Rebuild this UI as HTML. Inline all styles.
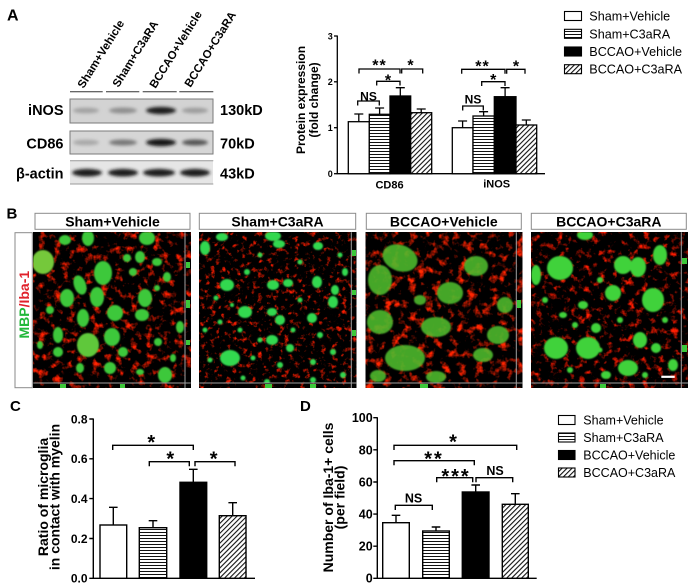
<!DOCTYPE html>
<html><head><meta charset="utf-8"><style>
html,body{margin:0;padding:0;background:#fff;}
svg{display:block;}
text{font-family:"Liberation Sans",Arial,sans-serif;}
</style></head><body>
<svg width="693" height="587" viewBox="0 0 693 587" xmlns="http://www.w3.org/2000/svg">
<defs>
<pattern id="hs" width="4" height="3" patternUnits="userSpaceOnUse"><rect width="4" height="3" fill="#fff"/><rect y="1" width="4" height="1" fill="#111"/></pattern>
<pattern id="dg" width="3.5" height="3.5" patternUnits="userSpaceOnUse" patternTransform="rotate(45)"><rect width="3.5" height="3.5" fill="#fff"/><rect width="1.1" height="3.5" fill="#111"/></pattern>
<filter id="bl" x="-50%" y="-100%" width="200%" height="300%"><feGaussianBlur stdDeviation="1.6"/></filter>
<filter id="gb" x="-20%" y="-20%" width="140%" height="140%"><feGaussianBlur stdDeviation="0.7"/></filter>
<filter id="r1" x="0" y="0" width="1" height="1" color-interpolation-filters="sRGB"><feTurbulence type="fractalNoise" baseFrequency="0.13" numOctaves="3" seed="3"/><feColorMatrix type="matrix" values="3.6 0 0 0 -1.9  0.45 0 0 0 -0.24  0 0 0 0 0  0 0 0 0 1"/></filter>
<filter id="r2" x="0" y="0" width="1" height="1" color-interpolation-filters="sRGB"><feTurbulence type="fractalNoise" baseFrequency="0.19" numOctaves="3" seed="8"/><feColorMatrix type="matrix" values="3.6 0 0 0 -2.0  0.4 0 0 0 -0.22  0 0 0 0 0  0 0 0 0 1"/></filter>
<filter id="r3" x="0" y="0" width="1" height="1" color-interpolation-filters="sRGB"><feTurbulence type="fractalNoise" baseFrequency="0.12" numOctaves="3" seed="12"/><feColorMatrix type="matrix" values="3.6 0 0 0 -1.85  0.5 0 0 0 -0.26  0 0 0 0 0  0 0 0 0 1"/></filter>
<filter id="r4" x="0" y="0" width="1" height="1" color-interpolation-filters="sRGB"><feTurbulence type="fractalNoise" baseFrequency="0.14" numOctaves="3" seed="21"/><feColorMatrix type="matrix" values="3.6 0 0 0 -1.94  0.4 0 0 0 -0.22  0 0 0 0 0  0 0 0 0 1"/></filter>
<clipPath id="c1"><rect x="33.3" y="232.3" width="151.7" height="150.4"/></clipPath>
<clipPath id="c2"><rect x="199.3" y="232.3" width="152" height="150.4"/></clipPath>
<clipPath id="c3"><rect x="365.7" y="232.3" width="150.6" height="150.4"/></clipPath>
<clipPath id="c4"><rect x="531.3" y="232.3" width="150" height="150.4"/></clipPath>
</defs>
<rect width="693" height="587" fill="#fff"/>

<text x="7" y="20.5" font-size="16" font-weight="bold">A</text>
<g font-size="11.5" font-weight="bold">
<text transform="translate(83.5,89) rotate(-58)">Sham+Vehicle</text>
<text transform="translate(118.5,88) rotate(-58)">Sham+C3aRA</text>
<text transform="translate(155.5,89) rotate(-58)">BCCAO+Vehicle</text>
<text transform="translate(190.5,88) rotate(-58)">BCCAO+C3aRA</text>
</g>
<g stroke="#333" stroke-width="1">
<line x1="70" y1="91.7" x2="102.7" y2="91.7"/><line x1="106" y1="91.7" x2="139.3" y2="91.7"/>
<line x1="142.7" y1="91.7" x2="176.7" y2="91.7"/><line x1="179.3" y1="91.7" x2="213.3" y2="91.7"/>
</g>
<rect x="70" y="99" width="143" height="24" fill="#d3d3d3" stroke="#7a7a7a" stroke-width="1"/>
<g filter="url(#bl)">
<ellipse cx="86" cy="110.5" rx="13" ry="2.8" fill="#a2a2a2"/>
<ellipse cx="123" cy="110.5" rx="14" ry="3" fill="#8f8f8f"/>
<ellipse cx="161" cy="110.5" rx="15" ry="3.6" fill="#1e1e1e"/>
<ellipse cx="195" cy="110.5" rx="13" ry="2.8" fill="#9c9c9c"/>
</g>
<rect x="70" y="131" width="143" height="23" fill="#d6d6d6" stroke="#7a7a7a" stroke-width="1"/>
<g filter="url(#bl)">
<ellipse cx="86" cy="142.5" rx="13" ry="2.8" fill="#a8a8a8"/>
<ellipse cx="123" cy="142.5" rx="14" ry="3" fill="#777"/>
<ellipse cx="161" cy="142.5" rx="15" ry="3.6" fill="#151515"/>
<ellipse cx="195" cy="142.5" rx="13" ry="3" fill="#555"/>
</g>
<rect x="70" y="161" width="143" height="23" fill="#e6e6e6"/>
<line x1="70" y1="160.7" x2="213.3" y2="160.7" stroke="#999" stroke-width="1"/>
<line x1="70" y1="184" x2="213.3" y2="184" stroke="#999" stroke-width="1"/>
<g filter="url(#bl)" fill="#1a1a1a">
<ellipse cx="87" cy="172.7" rx="15" ry="3.8"/>
<ellipse cx="123" cy="172.7" rx="15" ry="3.8"/>
<ellipse cx="159" cy="172.7" rx="16" ry="3.8"/>
<ellipse cx="195" cy="172.7" rx="15" ry="3.8"/>
</g>
<g font-size="14.5" font-weight="bold">
<text x="63.5" y="115.2" text-anchor="end">iNOS</text>
<text x="63.5" y="148.3" text-anchor="end">CD86</text>
<text x="63.5" y="178.3" text-anchor="end">β-actin</text>
<text x="220" y="115.2">130kD</text>
<text x="220" y="148.3">70kD</text>
<text x="220" y="178.3">43kD</text>
</g>

<g font-size="12" font-weight="bold">
<text transform="translate(305,100) rotate(-90)" text-anchor="middle">Protein expression</text>
<text transform="translate(318,100) rotate(-90)" text-anchor="middle">(fold change)</text>
</g>
<g font-size="9" font-weight="bold" text-anchor="end">
<text x="332.8" y="39.3">3</text><text x="332.8" y="85">2</text><text x="332.8" y="131">1</text><text x="332.8" y="177">0</text>
</g>
<g stroke="#000" stroke-width="1.3" fill="none">
<line x1="337.3" y1="35.5" x2="337.3" y2="174"/>
<line x1="336.6" y1="173.7" x2="545" y2="173.7"/>
<line x1="334" y1="36" x2="337.3" y2="36"/><line x1="334" y1="81.8" x2="337.3" y2="81.8"/>
<line x1="334" y1="127.7" x2="337.3" y2="127.7"/><line x1="334" y1="173.7" x2="337.3" y2="173.7"/>
</g>
<g stroke="#000" stroke-width="1.3">
<rect x="348.3" y="121.7" width="21" height="52" fill="#fff"/>
<rect x="369.3" y="114.3" width="20.7" height="59.4" fill="url(#hs)"/>
<rect x="390" y="96" width="20.7" height="77.7" fill="#000"/>
<rect x="410.7" y="112.7" width="21" height="61" fill="url(#dg)"/>
<rect x="452.3" y="127.7" width="20.7" height="46" fill="#fff"/>
<rect x="473" y="116" width="21.3" height="57.7" fill="url(#hs)"/>
<rect x="494.3" y="96.7" width="21.7" height="77" fill="#000"/>
<rect x="516" y="125" width="20.7" height="48.7" fill="url(#dg)"/>
</g>
<g stroke="#000" stroke-width="1.3" fill="none">
<path d="M358.8 121.7V114M354.3 114h9"/>
<path d="M379.6 114.3V108M375.1 108h9"/>
<path d="M400.3 96V87.7M395.8 87.7h9"/>
<path d="M421.2 112.7V109M416.7 109h9"/>
<path d="M462.6 127.7V121M458.1 121h9"/>
<path d="M483.6 116V111.7M479.1 111.7h9"/>
<path d="M505.1 96.7V87.7M500.6 87.7h9"/>
<path d="M526.3 125V120M521.8 120h9"/>
<path d="M357.7 105.5V101H379.3V105.5"/>
<path d="M376.7 85.5V81.3H400V85.5"/>
<path d="M359 73.5V69H400V73.5"/>
<path d="M401.7 73.5V69H422.7V73.5"/>
<path d="M462.7 110.5V106H483.3V110.5"/>
<path d="M481.7 86V81.7H505V86"/>
<path d="M461.7 73.8V69.3H505V73.8"/>
<path d="M506.7 73.8V69.3H525V73.8"/>
</g>
<g font-weight="bold" text-anchor="middle">
<text x="368.5" y="100.7" font-size="12">NS</text>
<text x="473" y="103.3" font-size="12">NS</text>
<g font-size="16">
<text x="379.5" y="70.3" letter-spacing="1">**</text>
<text x="388" y="85.5">*</text>
<text x="410.5" y="70.3">*</text>
<text x="482.5" y="71.5" letter-spacing="1">**</text>
<text x="493.3" y="85.2">*</text>
<text x="516" y="71.5">*</text>
</g>
<text x="389.5" y="188.3" font-size="11">CD86</text>
<text x="496.7" y="187.3" font-size="11">iNOS</text>
</g>

<g stroke="#000" stroke-width="1.1">
<rect x="564.5" y="11.5" width="17" height="9" fill="#fff"/>
<rect x="564.5" y="29.3" width="17" height="9" fill="url(#hs)"/>
<rect x="564.5" y="47" width="17" height="9" fill="#000"/>
<rect x="564.5" y="64.7" width="17" height="9" fill="url(#dg)"/>
</g>
<g font-size="12.6">
<text x="589.3" y="20.5">Sham+Vehicle</text>
<text x="589.3" y="38.3">Sham+C3aRA</text>
<text x="589.3" y="56">BCCAO+Vehicle</text>
<text x="589.3" y="73.7">BCCAO+C3aRA</text>
</g>

<text x="6.5" y="218.5" font-size="15" font-weight="bold">B</text>
<g fill="#fff" stroke="#8a8a8a" stroke-width="1">
<rect x="35" y="213.3" width="155" height="16"/>
<rect x="199.3" y="213.3" width="156.4" height="16"/>
<rect x="366.3" y="213.3" width="155" height="16"/>
<rect x="531.3" y="213.3" width="155" height="16"/>
<rect x="15" y="232.7" width="17.3" height="155"/>
</g>
<g font-size="14" font-weight="bold" text-anchor="middle">
<text x="112.5" y="226.3">Sham+Vehicle</text>
<text x="277.5" y="226.3">Sham+C3aRA</text>
<text x="443.8" y="226.3">BCCAO+Vehicle</text>
<text x="608.8" y="226.3">BCCAO+C3aRA</text>
</g>
<text transform="translate(29,304.7) rotate(-90)" text-anchor="middle" font-size="14" font-weight="bold"><tspan fill="#22b83a">MBP</tspan><tspan fill="#e0202a">/Iba-1</tspan></text>

<rect x="33.3" y="232.3" width="157.4" height="155.7" fill="#000" filter="url(#r1)"/>
<rect x="199.3" y="232.3" width="157" height="155.7" fill="#000" filter="url(#r2)"/>
<rect x="365.7" y="232.3" width="156.6" height="155.7" fill="#000" filter="url(#r3)"/>
<rect x="531.3" y="232.3" width="156.7" height="155.7" fill="#000" filter="url(#r4)"/>

<g clip-path="url(#c1)" filter="url(#gb)" fill="#3dc83a">
<ellipse cx="65" cy="240" rx="6" ry="5"/><ellipse cx="88" cy="238" rx="6" ry="8"/>
<ellipse cx="43" cy="262" rx="11" ry="12" fill="#74c83a"/><ellipse cx="103" cy="273" rx="9" ry="12"/>
<ellipse cx="80" cy="285" rx="6" ry="10" transform="rotate(-20 80 285)"/><ellipse cx="67" cy="298" rx="7" ry="9"/>
<ellipse cx="97" cy="297" rx="7" ry="10"/><ellipse cx="115" cy="313" rx="8" ry="8"/>
<ellipse cx="145" cy="298" rx="7" ry="9"/><ellipse cx="147" cy="238" rx="8" ry="7"/>
<ellipse cx="140" cy="257" rx="5" ry="6"/><ellipse cx="157" cy="262" rx="5" ry="4"/>
<ellipse cx="167" cy="277" rx="4" ry="5"/><ellipse cx="127" cy="258" rx="4" ry="4"/>
<ellipse cx="83" cy="318" rx="6" ry="9"/><ellipse cx="142" cy="315" rx="7" ry="6"/>
<ellipse cx="58" cy="335" rx="5" ry="8"/><ellipse cx="88" cy="345" rx="11" ry="12" fill="#5ec83a"/>
<ellipse cx="112" cy="337" rx="8" ry="9"/><ellipse cx="58" cy="352" rx="5" ry="5"/>
<ellipse cx="123" cy="352" rx="5" ry="5"/><ellipse cx="165" cy="375" rx="7" ry="8"/>
<ellipse cx="180" cy="327" rx="4" ry="6"/><ellipse cx="158" cy="342" rx="4" ry="4"/>
<ellipse cx="80" cy="368" rx="4" ry="5"/><ellipse cx="110" cy="368" rx="6" ry="6"/>
<ellipse cx="173" cy="358" rx="3" ry="4"/><ellipse cx="40" cy="345" rx="3" ry="4"/>
<ellipse cx="133" cy="272" rx="4" ry="4"/><ellipse cx="157" cy="288" rx="3" ry="3"/>
<ellipse cx="50" cy="310" rx="4" ry="4"/><ellipse cx="140" cy="372" rx="4" ry="3"/>
</g>
<g clip-path="url(#c2)" filter="url(#gb)" fill="#32d850">
<ellipse cx="205" cy="248" rx="5" ry="7"/><ellipse cx="222" cy="237" rx="6" ry="4"/>
<ellipse cx="273" cy="236" rx="8" ry="5"/><ellipse cx="279" cy="244" rx="6" ry="4"/>
<ellipse cx="318" cy="246" rx="5" ry="4"/><ellipse cx="247" cy="272" rx="3" ry="3"/>
<ellipse cx="227" cy="285" rx="7" ry="6"/><ellipse cx="273" cy="285" rx="6" ry="5"/>
<ellipse cx="288" cy="283" rx="5" ry="4"/><ellipse cx="317" cy="282" rx="5" ry="6"/>
<ellipse cx="335" cy="290" rx="4" ry="5"/><ellipse cx="345" cy="272" rx="3" ry="4"/>
<ellipse cx="245" cy="312" rx="7" ry="6"/><ellipse cx="272" cy="312" rx="5" ry="4"/>
<ellipse cx="280" cy="320" rx="5" ry="5"/><ellipse cx="312" cy="318" rx="5" ry="5"/>
<ellipse cx="333" cy="302" rx="5" ry="6"/><ellipse cx="272" cy="340" rx="6" ry="5"/>
<ellipse cx="230" cy="358" rx="10" ry="8"/><ellipse cx="290" cy="348" rx="4" ry="4"/>
<circle cx="216" cy="298" r="2.5"/><circle cx="220" cy="322" r="2.5"/><circle cx="240" cy="330" r="2.5"/>
<circle cx="293" cy="330" r="2.5"/><circle cx="260" cy="340" r="2.5"/><circle cx="320" cy="335" r="3"/>
<circle cx="333" cy="352" r="3"/><circle cx="253" cy="358" r="2.5"/><circle cx="280" cy="365" r="3"/>
<circle cx="313" cy="362" r="3"/><circle cx="343" cy="375" r="3"/><circle cx="243" cy="378" r="2.5"/>
<circle cx="267" cy="382" r="3"/><circle cx="313" cy="380" r="3"/><circle cx="205" cy="330" r="2.5"/>
<circle cx="210" cy="360" r="2.5"/><circle cx="300" cy="300" r="2.5"/><circle cx="260" cy="255" r="2.5"/>
<circle cx="300" cy="262" r="2.5"/><circle cx="340" cy="255" r="2.5"/><circle cx="232" cy="305" r="2"/>
</g>
<g clip-path="url(#c3)" filter="url(#gb)" fill="#4cb82e" fill-opacity="0.9">
<ellipse cx="400" cy="258" rx="18" ry="13" transform="rotate(20 400 258)"/>
<ellipse cx="380" cy="280" rx="12" ry="15"/><ellipse cx="476" cy="266" rx="12" ry="10"/>
<ellipse cx="450" cy="293" rx="13" ry="11"/><ellipse cx="505" cy="305" rx="8" ry="8"/>
<ellipse cx="380" cy="322" rx="13" ry="12"/><ellipse cx="436" cy="327" rx="15" ry="10"/>
<ellipse cx="498" cy="335" rx="11" ry="9"/><ellipse cx="405" cy="358" rx="20" ry="13"/>
<ellipse cx="483" cy="355" rx="10" ry="7"/><ellipse cx="378" cy="376" rx="8" ry="6"/>
<ellipse cx="436" cy="377" rx="10" ry="6"/><ellipse cx="420" cy="300" rx="6" ry="5"/>
</g>
<g clip-path="url(#c4)" filter="url(#gb)" fill="#3fd23a">
<ellipse cx="560" cy="268" rx="13" ry="12"/><ellipse cx="585" cy="235" rx="8" ry="5"/>
<ellipse cx="623" cy="265" rx="9" ry="9"/><ellipse cx="638" cy="267" rx="8" ry="10"/>
<ellipse cx="660" cy="255" rx="7" ry="10"/><ellipse cx="613" cy="293" rx="8" ry="8"/>
<ellipse cx="653" cy="300" rx="11" ry="12"/><ellipse cx="536" cy="275" rx="5" ry="10"/>
<ellipse cx="556" cy="348" rx="12" ry="11"/><ellipse cx="588" cy="348" rx="12" ry="11"/>
<ellipse cx="640" cy="340" rx="7" ry="8"/><ellipse cx="596" cy="328" rx="5" ry="5"/>
<ellipse cx="628" cy="368" rx="10" ry="8"/><ellipse cx="656" cy="348" rx="5" ry="5"/>
<ellipse cx="563" cy="315" rx="4" ry="3"/><ellipse cx="583" cy="305" rx="5" ry="4"/>
<ellipse cx="673" cy="365" rx="5" ry="6"/><ellipse cx="606" cy="375" rx="5" ry="4"/>
<circle cx="545" cy="300" r="3"/><circle cx="600" cy="280" r="3"/><circle cx="575" cy="325" r="3"/>
<circle cx="620" cy="320" r="3"/><circle cx="665" cy="320" r="3"/><circle cx="600" cy="350" r="2.5"/>
<circle cx="570" cy="370" r="3"/><circle cx="645" cy="375" r="3"/>
</g>
<g fill="#3cc83a">
<rect x="186" y="262" width="4" height="6"/><rect x="186" y="300" width="4" height="8"/><rect x="186" y="340" width="4" height="5"/>
<rect x="60" y="384" width="6" height="4"/><rect x="120" y="384" width="5" height="4"/>
<rect x="352" y="250" width="4" height="6"/><rect x="352" y="290" width="4" height="5"/><rect x="352" y="330" width="4" height="6"/>
<rect x="265" y="384" width="7" height="4"/><rect x="310" y="384" width="6" height="4"/>
<rect x="517" y="300" width="4" height="8"/><rect x="420" y="384" width="8" height="4"/>
<rect x="682" y="258" width="5" height="6"/><rect x="682" y="345" width="5" height="7"/><rect x="600" y="384" width="6" height="4"/>
</g>
<g stroke="#a0a0a0" stroke-width="1" fill="none">
<path d="M185 232.3V388M33.3 383H190.7"/>
<path d="M351.3 232.3V388M199.3 383H356.3"/>
<path d="M516.3 232.3V388M365.7 383H522.3"/>
<path d="M681.3 232.3V388M531.3 383H688"/>
</g>
<rect x="661.3" y="375.7" width="13.4" height="2.2" fill="#fff"/>

<text x="10" y="411" font-size="15" font-weight="bold">C</text>
<g font-size="14" font-weight="bold" text-anchor="middle">
<text transform="translate(48,497) rotate(-90)">Ratio of microglia</text>
<text transform="translate(59.5,497) rotate(-90)">in contact with myelin</text>
</g>
<g font-size="12" font-weight="bold" text-anchor="end">
<text x="87.5" y="423.3">0.8</text><text x="87.5" y="463.1">0.6</text><text x="87.5" y="502.9">0.4</text>
<text x="87.5" y="542.8">0.2</text><text x="87.5" y="582.6">0.0</text>
</g>
<g stroke="#000" stroke-width="1.4" fill="none">
<line x1="93.3" y1="418.5" x2="93.3" y2="579"/>
<line x1="92.6" y1="578.3" x2="255" y2="578.3"/>
<path d="M89.3 419H93.3M89.3 458.8H93.3M89.3 498.6H93.3M89.3 538.5H93.3M89.3 578.3H93.3"/>
</g>
<g stroke="#000" stroke-width="1.4">
<rect x="100" y="525" width="26.7" height="53.3" fill="#fff"/>
<rect x="139.3" y="527.7" width="27.4" height="50.6" fill="url(#hs)"/>
<rect x="180" y="482.3" width="26.7" height="96" fill="#000"/>
<rect x="219.3" y="515.7" width="26.7" height="62.6" fill="url(#dg)"/>
</g>
<g stroke="#000" stroke-width="1.4" fill="none">
<path d="M113.3 525V507.3M109 507.3h8.6"/>
<path d="M153 527.7V520.7M148.7 520.7h8.6"/>
<path d="M193.3 482.3V469.3M189 469.3h8.6"/>
<path d="M232.7 515.7V502.7M228.4 502.7h8.6"/>
<path d="M112.7 450V445.3H193.3V450"/>
<path d="M149.3 466.3V461.7H189.3V466.3"/>
<path d="M195 466.3V461.7H235V466.3"/>
</g>
<g font-size="20" font-weight="bold" text-anchor="middle">
<text x="151.3" y="449">*</text><text x="170.3" y="465.5">*</text><text x="213.7" y="465.5">*</text>
</g>

<text x="300" y="411" font-size="15" font-weight="bold">D</text>
<g font-size="14" font-weight="bold" text-anchor="middle">
<text transform="translate(333,497.5) rotate(-90)">Number of Iba-1+ cells</text>
<text transform="translate(344.5,497.5) rotate(-90)">(per field)</text>
</g>
<g font-size="12.5" font-weight="bold" text-anchor="end">
<text x="372.7" y="422.2">100</text><text x="372.7" y="454.3">80</text><text x="372.7" y="486.4">60</text>
<text x="372.7" y="518.5">40</text><text x="372.7" y="550.6">20</text><text x="372.7" y="582.7">0</text>
</g>
<g stroke="#000" stroke-width="1.4" fill="none">
<line x1="377.3" y1="417.2" x2="377.3" y2="579"/>
<line x1="376.6" y1="578.3" x2="536.7" y2="578.3"/>
<path d="M373.3 417.7H377.3M373.3 449.8H377.3M373.3 482H377.3M373.3 514.1H377.3M373.3 546.2H377.3M373.3 578.3H377.3"/>
</g>
<g stroke="#000" stroke-width="1.4">
<rect x="382.7" y="522.7" width="26.6" height="55.6" fill="#fff"/>
<rect x="422.7" y="531" width="26.6" height="47.3" fill="url(#hs)"/>
<rect x="462.3" y="492" width="26.7" height="86.3" fill="#000"/>
<rect x="502.3" y="504.3" width="26" height="74" fill="url(#dg)"/>
</g>
<g stroke="#000" stroke-width="1.4" fill="none">
<path d="M396 522.7V515.3M391.7 515.3h8.6"/>
<path d="M436 531V527M431.7 527h8.6"/>
<path d="M475.7 492V485M471.4 485h8.6"/>
<path d="M515.3 504.3V493.7M511 493.7h8.6"/>
<path d="M394 450V445.3H516.7V450"/>
<path d="M394 465.3V460.7H474.3V465.3"/>
<path d="M436.7 482.3V477.7H472.7V482.3"/>
<path d="M476 482.3V477.7H512.7V482.3"/>
<path d="M395.3 510V505.3H432.3V510"/>
</g>
<g font-weight="bold" text-anchor="middle">
<g font-size="20">
<text x="453" y="448.5">*</text>
<text x="434" y="465.5" letter-spacing="2">**</text>
<text x="456" y="482.8" letter-spacing="2">***</text>
</g>
<g font-size="12.5">
<text x="495" y="475">NS</text>
<text x="413.5" y="502.7">NS</text>
</g>
</g>

<g stroke="#000" stroke-width="1.1">
<rect x="558.5" y="415.5" width="16.5" height="9" fill="#fff"/>
<rect x="558.5" y="433" width="16.5" height="9" fill="url(#hs)"/>
<rect x="558.5" y="450.5" width="16.5" height="9" fill="#000"/>
<rect x="558.5" y="468" width="16.5" height="9" fill="url(#dg)"/>
</g>
<g font-size="12.5">
<text x="583.3" y="424.5">Sham+Vehicle</text>
<text x="583.3" y="442">Sham+C3aRA</text>
<text x="583.3" y="459.5">BCCAO+Vehicle</text>
<text x="583.3" y="477">BCCAO+C3aRA</text>
</g>
</svg>
</body></html>
